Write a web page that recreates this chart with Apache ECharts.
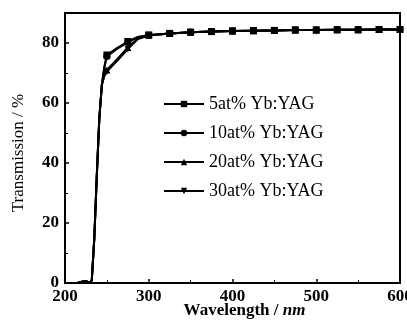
<!DOCTYPE html>
<html><head><meta charset="utf-8">
<script src="https://cdn.jsdelivr.net/npm/echarts@6/dist/echarts.min.js"></script>
<style>html,body{margin:0;padding:0;background:#fff}#c{width:407px;height:322px}</style>
</head><body><div id="c"></div>
<script>
var wavelength = [215,220,225,230,232,235,238,241,244,247,250,262,275,287,300,325,350,375,400,425,450,475,500,525,550,575,600];
var yb5  = [0,0.4,0.6,0,1,15,36,55,66,72,76,78.3,80.5,82,82.7,83.2,83.6,83.8,84,84.1,84.2,84.3,84.3,84.4,84.4,84.5,84.5];
var yb10 = [0,0.4,0.6,0,1,15,36,55,66,72,75.5,78,80.3,81.9,82.6,83.2,83.6,83.8,84,84.1,84.2,84.3,84.3,84.4,84.4,84.5,84.5];
var yb20 = [0,0.4,0.6,0,1,15,36,55,66,69.5,71,74.5,78.5,81.5,82.6,83.2,83.6,83.8,84,84.1,84.2,84.3,84.3,84.4,84.4,84.5,84.5];
var yb30 = [0,0.4,0.6,0,1,15,36,55,66,69,70.5,74,78,81.3,82.5,83.2,83.6,83.8,84,84.1,84.2,84.3,84.3,84.4,84.4,84.5,84.5];
var names = ['5at% Yb:YAG','10at% Yb:YAG','20at% Yb:YAG','30at% Yb:YAG'];
var values = [yb5,yb10,yb20,yb30];
var symbols = ['rect','circle','triangle','path://M0,0 L10,0 L5,10 Z'];
var xTicks = [200,300,400,500,600];
var yTicks = [0,20,40,60,80];

var serif = 'Liberation Serif, Times New Roman, serif';
var series = values.map(function(v,i){
  return {
    name: names[i], type:'line', symbol: symbols[i], symbolSize: 7,
    lineStyle:{color:'#000',width:2}, itemStyle:{color:'#000'},
    data: wavelength.map(function(w,j){
      var item = {value:[w,v[j]]};
      if (!(w>=250 && w%25===0)) item.symbol='none';
      return item;
    })
  };
});
var chart = echarts.init(document.getElementById('c'));
chart.setOption({
  animation:false,
  backgroundColor:'#fff',
  grid:{left:65,right:7,top:13,bottom:39,containLabel:false,outerBoundsMode:'none',
    show:true,borderColor:'#000',borderWidth:2,backgroundColor:'transparent'},
  legend:{left:158,top:90,orient:'vertical',itemGap:11,itemWidth:40,itemHeight:8,
    textStyle:{fontFamily:serif,fontSize:18,color:'#000'},data:names},
  xAxis:{type:'value',min:200,max:600,interval:100,
    name:'{b|Wavelength / }{i|nm}',nameLocation:'middle',nameGap:19,nameMoveOverlap:false,
    nameTextStyle:{padding:[0,0,0,24],rich:{
      b:{fontFamily:serif,fontSize:17,fontWeight:'bold',color:'#000'},
      i:{fontFamily:serif,fontSize:17,fontWeight:'bold',fontStyle:'italic',color:'#000'}}},
    axisLine:{lineStyle:{color:'#000',width:2}},
    axisTick:{inside:true,length:4,lineStyle:{color:'#000',width:1.5}},
    minorTick:{show:true,splitNumber:2,length:3,lineStyle:{color:'#000'}},
    splitLine:{show:false},
    axisLabel:{fontFamily:serif,fontSize:17,fontWeight:'bold',color:'#000',margin:5,
      formatter:function(v){return xTicks.indexOf(v)>=0?String(v):'';}}},
  yAxis:{type:'value',min:0,max:90,interval:20,
    name:'Transmission / %',nameLocation:'middle',nameGap:38,nameMoveOverlap:false,
    nameTextStyle:{fontFamily:serif,fontSize:17,color:'#000',padding:[0,10,0,0]},
    axisLine:{lineStyle:{color:'#000',width:2}},
    axisTick:{inside:true,length:4,lineStyle:{color:'#000',width:1.5}},
    minorTick:{show:true,splitNumber:2,length:3,lineStyle:{color:'#000'}},
    splitLine:{show:false},
    axisLabel:{fontFamily:serif,fontSize:17,fontWeight:'bold',color:'#000',margin:6,showMaxLabel:false,
      formatter:function(v){return yTicks.indexOf(v)>=0?String(v):'';}}},
  series: series
});
</script></body></html>
